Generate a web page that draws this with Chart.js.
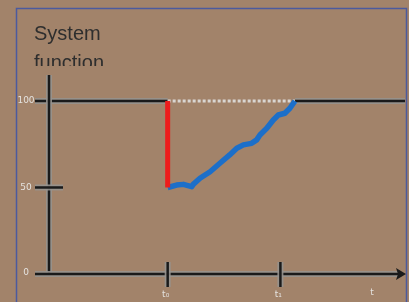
<!DOCTYPE html>
<html>
<head>
<meta charset="utf-8">
<script src="https://cdn.jsdelivr.net/npm/chart.js@4.4.1/dist/chart.umd.min.js"></script>
<style>
  html, body { margin: 0; padding: 0; background: #a2836a; }
  #wrap { width: 409px; height: 302px; }
</style>
</head>
<body>
<div id="wrap"><canvas id="chart" width="409" height="302"></canvas></div>
<script>
// Diagram content
const titleLines = ['System', 'function'];
const yTicks = [0, 50, 100];
const yTickLabels = ['0', '50', '100'];
const xTicks = [4.0, 7.8];
const xTickLabels = ['t₀', 't₁'];
const xAxisLabel = 't';

// Step at t0 (red) and the system response (blue)
const jumpX = [4.0, 4.0];
const jumpY = [50, 100];
const responseX = [4.0, 4.30, 4.53, 4.81, 4.86, 5.09, 5.43, 5.76, 6.09, 6.33, 6.55, 6.83, 7.00, 7.11, 7.34, 7.56, 7.73, 7.95, 8.12, 8.29];
const responseY = [50, 51.4, 51.8, 50.5, 51.8, 55.3, 59.1, 64.0, 68.8, 72.7, 74.6, 75.5, 77.5, 80.3, 84.2, 89.0, 91.9, 92.9, 95.8, 100];
// Target level between the step and the end of the response
const targetX = [4.0, 8.29];
const targetY = [100, 100];

const BG = '#a2836a';
const INK = '#1a1a1a';
const HALO = 'rgba(150,146,142,0.9)';
const LABEL = '#e4e2df';

function toPoints(xs, ys) {
  return xs.map((x, i) => ({ x: x, y: ys[i] }));
}

function haloLine(ctx, pts) {
  ctx.save();
  ctx.lineCap = 'butt';
  [[HALO, 6], [INK, 2.5]].forEach(([color, w]) => {
    ctx.strokeStyle = color;
    ctx.lineWidth = w;
    ctx.beginPath();
    pts.forEach(([x, y], i) => (i ? ctx.lineTo(x, y) : ctx.moveTo(x, y)));
    ctx.stroke();
  });
  ctx.restore();
}

const diagramPlugin = {
  id: 'diagram',
  beforeDraw(chart) {
    const ctx = chart.ctx;
    ctx.save();
    ctx.fillStyle = BG;
    ctx.fillRect(0, 0, chart.width, chart.height);

    // frame
    ctx.strokeStyle = '#4b5a9e';
    ctx.lineWidth = 1.5;
    ctx.strokeRect(16.5, 8.5, 390, 320);

    // title, cut off just above the axis top
    ctx.beginPath();
    ctx.rect(0, 0, chart.width, 66);
    ctx.clip();
    ctx.fillStyle = '#2e2e2e';
    ctx.font = '20px "Liberation Sans", Arial, sans-serif';
    ctx.textBaseline = 'alphabetic';
    titleLines.forEach((line, i) => ctx.fillText(line, 34, 40 + i * 29));
    ctx.restore();
  },
  beforeDatasetsDraw(chart) {
    const ctx = chart.ctx;
    const xs = chart.scales.x, ys = chart.scales.y;
    const x0 = xs.getPixelForValue(0);
    const y0 = ys.getPixelForValue(0);
    const yTop = ys.getPixelForValue(ys.max);
    const xEnd = xs.getPixelForValue(xs.max);
    const yLevel = ys.getPixelForValue(100);
    const left = x0 - 14;

    // level line at 100, interrupted where the target dots run
    haloLine(ctx, [[left, yLevel], [xs.getPixelForValue(targetX[0]), yLevel]]);
    haloLine(ctx, [[xs.getPixelForValue(targetX[1]), yLevel], [xEnd, yLevel]]);

    // axes
    haloLine(ctx, [[x0, yTop], [x0, y0]]);
    haloLine(ctx, [[left, y0], [xEnd - 6, y0]]);
    ctx.save();
    ctx.fillStyle = INK;
    ctx.beginPath();
    ctx.moveTo(xEnd + 1, y0);
    ctx.lineTo(xEnd - 9, y0 - 6);
    ctx.lineTo(xEnd - 7, y0);
    ctx.lineTo(xEnd - 9, y0 + 6);
    ctx.closePath();
    ctx.fill();
    ctx.restore();

    // ticks
    const y50 = ys.getPixelForValue(50);
    haloLine(ctx, [[left, y50], [x0 + 14, y50]]);
    xTicks.forEach(t => {
      const px = xs.getPixelForValue(t);
      haloLine(ctx, [[px, y0 - 12], [px, y0 + 13]]);
    });

    // tick labels
    ctx.save();
    ctx.fillStyle = LABEL;
    ctx.font = '9px "DejaVu Sans", sans-serif';
    ctx.textAlign = 'center';
    ctx.textBaseline = 'middle';
    yTicks.forEach((v, i) => {
      ctx.fillText(yTickLabels[i], 26, ys.getPixelForValue(v) + (v === 0 ? -1 : 0));
    });
    xTicks.forEach((t, i) => {
      ctx.fillText(xTickLabels[i], xs.getPixelForValue(t) - 2, y0 + 21);
    });
    ctx.fillText(xAxisLabel, xEnd - 33, y0 + 19);
    ctx.restore();
  }
};

new Chart(document.getElementById('chart'), {
  type: 'line',
  data: {
    datasets: [
      {
        label: 'target',
        data: toPoints(targetX, targetY),
        borderColor: '#d9d6d2',
        borderWidth: 3,
        borderDash: [3, 2],
        pointRadius: 0,
        order: 3
      },
      {
        label: 'response',
        data: toPoints(responseX, responseY),
        borderColor: '#1c6fc9',
        borderWidth: 5.5,
        borderJoinStyle: 'round',
        pointRadius: 0,
        order: 2
      },
      {
        label: 'step',
        data: toPoints(jumpX, jumpY),
        borderColor: '#ee1c1c',
        borderWidth: 5,
        pointRadius: 0,
        order: 1
      }
    ]
  },
  options: {
    responsive: false,
    animation: false,
    layout: { padding: { left: 49, right: 4, top: 75, bottom: 28 } },
    scales: {
      x: { type: 'linear', min: 0, max: 12, display: false },
      y: { type: 'linear', min: 0, max: 115, display: false }
    },
    plugins: {
      legend: { display: false },
      tooltip: { enabled: false }
    },
    elements: { line: { tension: 0 } }
  },
  plugins: [diagramPlugin]
});
</script>
</body>
</html>
